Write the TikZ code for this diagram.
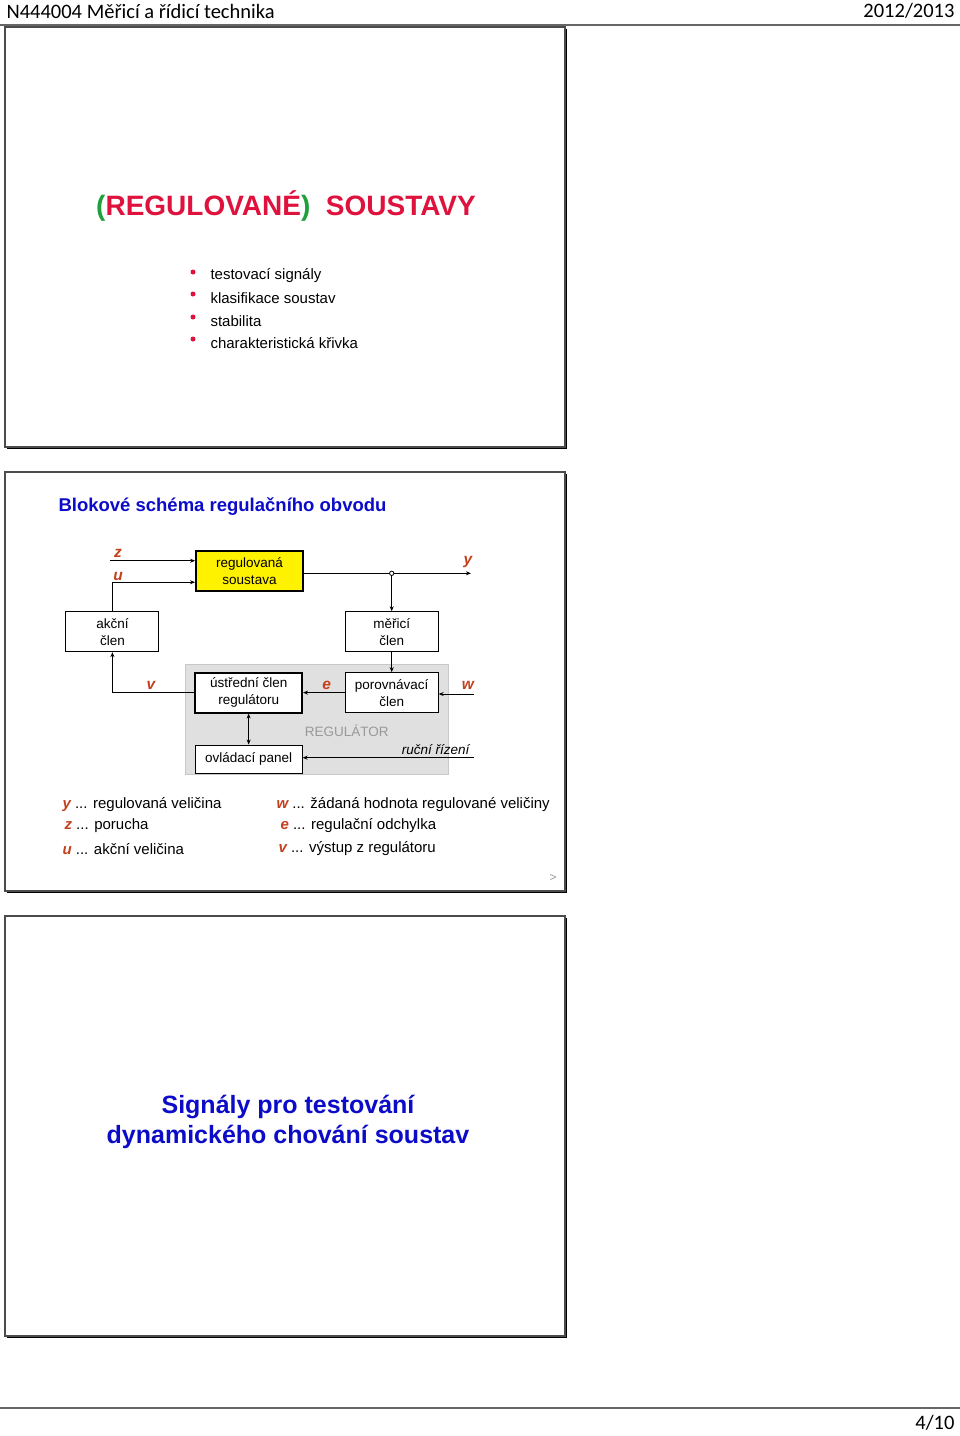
\documentclass[tikz,border=0pt]{standalone}
\usepackage{fontspec}
\setmainfont{Liberation Sans}
\newfontfamily\hlavicka{Carlito}
\usepackage{xcolor}
\usetikzlibrary{positioning, arrows.meta}

\definecolor{karmin}{RGB}{222,18,60}
\definecolor{zelena}{RGB}{30,160,60}
\definecolor{modra}{RGB}{12,12,200}
\definecolor{signal}{RGB}{196,64,28}
\definecolor{regfill}{RGB}{224,224,224}
\definecolor{regdraw}{RGB}{200,200,200}

\tikzset{
    folie/.style={draw=black!70, line width=1.2pt, fill=white},
    blok/.style={draw, line width=0.9pt, fill=white, align=center,
        minimum width=93pt, minimum height=40pt, inner sep=1pt,
        font=\fontsize{13.5}{17}\selectfont},
    silny/.style={blok, line width=1.8pt, minimum width=107pt},
    sig/.style={text=signal, font=\fontsize{15.5}{17}\selectfont\bfseries\itshape},
    odrazka/.style={circle, fill=karmin, inner sep=0pt, minimum size=5pt},
    polozka/.style={anchor=west, font=\fontsize{15}{18}\selectfont},
}

\begin{document}
\begin{tikzpicture}[x=1pt, y=-1pt, >={Stealth[length=5pt,width=4pt]}]
    \useasboundingbox (0,0) rectangle (960,1436);

    % hlavicka a paticka
    \node[anchor=west, font=\hlavicka\fontsize{20.5}{22}\selectfont] (predmet) at (3,11) {N444004 Měřicí a řídicí technika};
    \node[anchor=east, font=\hlavicka\fontsize{20.5}{22}\selectfont] (rok) at (958,11) {2012/2013};
    \draw[black!60, line width=1.5pt] (0,25) -- (960,25);
    \draw[black!60, line width=1.5pt] (0,1408) -- (960,1408);
    \node[anchor=east, font=\hlavicka\fontsize{20.5}{22}\selectfont] (strana) at (958,1423) {4/10};

    % folie se stinem
    \foreach \horni/\dolni in {27/447, 472/891, 916/1336} {
        \fill[black] (7,\horni+2) rectangle (567,\dolni+2);
        \draw[folie] (5,\horni) rectangle (565,\dolni);
    }

    % folie 1
    \node[font=\fontsize{28}{32}\selectfont\bfseries] (nadpis) at (286,206)
        {\textcolor{zelena}{(}\textcolor{karmin}{REGULOVANÉ}\textcolor{zelena}{)}\ \ \textcolor{karmin}{SOUSTAVY}};
    \foreach \y/\txt in {276/testovací signály, 298/klasifikace soustav, 321/stabilita, 343/charakteristická křivka} {
        \node[odrazka] at (193,\y-4) {};
        \node[polozka] at (207,\y) {\txt};
    }

    % folie 2
    \node[anchor=west, text=modra, font=\fontsize{18.5}{20}\selectfont\bfseries] (schema) at (55,507) {Blokové schéma regulačního obvodu};

    \fill[regfill, draw=regdraw, line width=1pt] (185,664.3) rectangle (448.3,774);
    \node[text=black!40, font=\fontsize{13.5}{16}\selectfont] (regulator) at (346.7,731) {REGULÁTOR};

    \node[silny, fill=yellow] (soustava) at (249.5,571.2) {regulovaná\\soustava};
    \node[blok] (akcni) at (112.4,631.7) {akční\\člen};
    \node[blok] (meric) at (391.7,631.7) {měřicí\\člen};
    \node[blok] (porov) [below=20pt of meric] {porovnávací\\člen};
    \node[silny] (ustred) [left=41.7pt of porov] {ústřední člen\\regulátoru};
    \node[blok, minimum width=107pt, minimum height=28pt] (panel) [below=31pt of ustred] {ovládací panel};

    \coordinate (zvstup) at (110,560.7);
    \coordinate (yvystup) at (471,573.3);
    \coordinate (wvstup) at (474,694);
    \coordinate (rvstup) at (474,757.7);
    \coordinate (uzel) at (meric.north |- yvystup);

    \draw[->, line width=0.9pt] (zvstup) -- (zvstup -| soustava.west);
    \draw[->, line width=0.9pt] (akcni.north) |- ([yshift=-11pt]soustava.west);
    \draw[->, line width=0.9pt] (soustava.east |- yvystup) -- (yvystup);
    \draw[->, line width=0.9pt] (uzel) -- (meric.north);
    \draw[fill=white, line width=0.8pt] (uzel) circle (2.2pt);
    \draw[->, line width=0.9pt] (meric.south) -- (porov.north);
    \draw[->, line width=0.9pt] (wvstup) -- (wvstup -| porov.east);
    \draw[->, line width=0.9pt] (porov.west) -- (ustred.east);
    \draw[->, line width=0.9pt] (ustred.west) -| (akcni.south);
    \draw[<->, line width=0.9pt] (ustred.south) -- (panel.north);
    \draw[->, line width=0.9pt] (rvstup) -- (rvstup -| panel.east);

    \node[sig] (z) at (118,553) {z};
    \node[sig] (u) at (118,576.7) {u};
    \node[sig] (y) at (468,562) {y};
    \node[sig] (v) at (151,685) {v};
    \node[sig] (e) at (326.7,685) {e};
    \node[sig] (w) at (468,685) {w};
    \node[anchor=east, font=\fontsize{13.5}{16}\selectfont\itshape] (rucni) at (473,750) {ruční řízení};

    % legenda
    \foreach \x/\y/\zn/\txt in {59/805/y/regulovaná veličina, 61/826/z/porucha, 59/849/u/akční veličina,
                                273/805/w/žádaná hodnota regulované veličiny, 277/826/e/regulační odchylka, 275/849/v/výstup z regulátoru} {
        \node[polozka] at (\x,\y) {\textcolor{signal}{\bfseries\itshape\zn} ... \txt};
    }
    \node[text=black!40, font=\fontsize{12}{14}\selectfont] (dalsi) at (553,878) {>};

    % folie 3
    \node[align=center, text=modra, font=\fontsize{25}{30}\selectfont\bfseries] (signaly) at (288,1122)
        {Signály pro testování\\dynamického chování soustav};
\end{tikzpicture}
\end{document}
